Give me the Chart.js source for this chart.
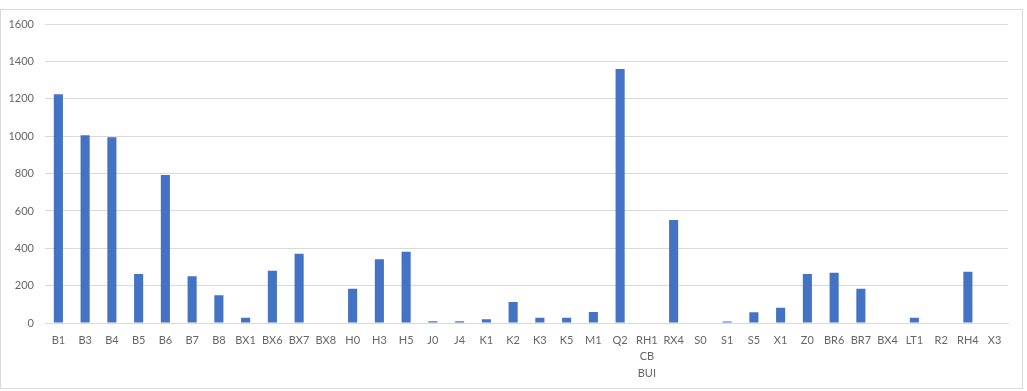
<!DOCTYPE html>
<html>
<head>
<meta charset="utf-8">
<script src="https://cdn.jsdelivr.net/npm/chart.js@4/dist/chart.umd.min.js"></script>
<style>
    html, body { margin: 0; padding: 0; background: #fff; }
    #box {
        position: absolute;
        left: 0; top: 9px;
        width: 1021px; height: 378px;
        border: 1px solid #d9d9d9;
    }
    #wrap {
        position: absolute;
        left: 0; top: -5px;
        width: 1021px; height: 383px;
    }
</style>
</head>
<body>
<div id="box"><div id="wrap"><canvas id="stockChart"></canvas></div></div>
<script>
// categories along the x axis
const categories = [
    'B1', 'B3', 'B4', 'B5', 'B6', 'B7', 'B8', 'BX1', 'BX6', 'BX7', 'BX8',
    'H0', 'H3', 'H5', 'J0', 'J4', 'K1', 'K2', 'K3', 'K5', 'M1', 'Q2',
    ['RH1', 'CB', 'BUI'], 'RX4', 'S0', 'S1', 'S5', 'X1', 'Z0', 'BR6', 'BR7',
    'BX4', 'LT1', 'R2', 'RH4', 'X3'
];

// values
const values = [
    1225, 1005, 995, 262, 792, 250, 148, 28, 280, 371, 0,
    183, 341, 382, 10, 10, 20, 112, 28, 28, 59, 1360,
    0, 552, 0, 8, 57, 82, 262, 269, 183,
    0, 28, 0, 275, 0
];

// y axis
const yMax = 1600;
const yStep = 200;

const tickFont = { family: 'Lato, "Open Sans", sans-serif', size: 11, lineHeight: 1.5 };

const ctx = document.getElementById('stockChart').getContext('2d');

new Chart(ctx, {
    type: 'bar',
    data: {
        labels: categories,
        datasets: [{
            data: values,
            backgroundColor: '#4472c4',
            categoryPercentage: 1,
            barPercentage: 0.34
        }]
    },
    options: {
        responsive: true,
        maintainAspectRatio: false,
        animation: false,
        layout: { padding: { top: 4, right: 14, left: 0, bottom: 0 } },
        plugins: {
            legend: { display: false },
            tooltip: { enabled: false }
        },
        scales: {
            x: {
                grid: { display: false, drawTicks: false },
                border: { color: '#d9d9d9' },
                ticks: {
                    color: '#666',
                    font: tickFont,
                    padding: 9,
                    autoSkip: false,
                    maxRotation: 0,
                    minRotation: 0
                },
                afterFit: s => { s.height = 65; }
            },
            y: {
                min: 0,
                max: yMax,
                grid: { color: '#d9d9d9', drawTicks: false },
                border: { display: false },
                ticks: {
                    stepSize: yStep,
                    color: '#666',
                    font: tickFont,
                    padding: 11,
                    callback: v => String(v)
                },
                afterFit: s => { s.width = 44; }
            }
        }
    }
});
</script>
</body>
</html>
